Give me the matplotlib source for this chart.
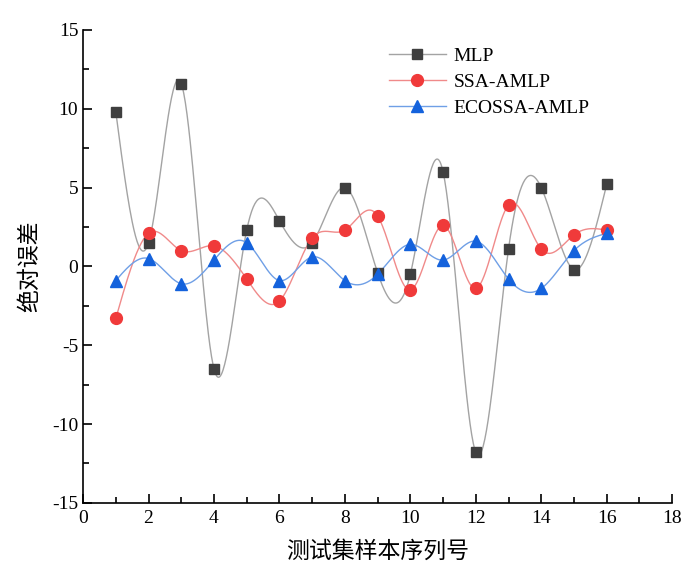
import numpy as np
import matplotlib
matplotlib.use("Agg")
import matplotlib.pyplot as plt
from matplotlib.ticker import MultipleLocator

x = np.arange(1, 17)
mlp = [9.8, 1.5, 11.6, -6.5, 2.3, 2.9, 1.5, 5.0, -0.4, -0.5, 6.0, -11.8, 1.1, 5.0, -0.2, 5.2]
ssa = [-3.3, 2.1, 1.0, 1.3, -0.8, -2.2, 1.8, 2.3, 3.2, -1.5, 2.6, -1.4, 3.9, 1.1, 2.0, 2.3]
eco = [-0.9, 0.5, -1.1, 0.4, 1.5, -0.9, 0.6, -0.9, -0.5, 1.4, 0.4, 1.6, -0.8, -1.4, 1.0, 2.1]
labels = ["MLP", "SSA-AMLP", "ECOSSA-AMLP"]


def natural_spline(xs, ys, n=40):
    xs = np.asarray(xs, float)
    ys = np.asarray(ys, float)
    N = len(xs)
    h = np.diff(xs)
    A = np.zeros((N, N))
    b = np.zeros(N)
    A[0, 0] = 1
    A[-1, -1] = 1
    for i in range(1, N - 1):
        A[i, i - 1] = h[i - 1]
        A[i, i] = 2 * (h[i - 1] + h[i])
        A[i, i + 1] = h[i]
        b[i] = 3 * ((ys[i + 1] - ys[i]) / h[i] - (ys[i] - ys[i - 1]) / h[i - 1])
    c = np.linalg.solve(A, b)
    xo, yo = [], []
    for i in range(N - 1):
        bi = (ys[i + 1] - ys[i]) / h[i] - h[i] * (2 * c[i] + c[i + 1]) / 3
        di = (c[i + 1] - c[i]) / (3 * h[i])
        t = np.linspace(0, h[i], n, endpoint=(i == N - 2))
        xo.append(xs[i] + t)
        yo.append(ys[i] + bi * t + c[i] * t ** 2 + di * t ** 3)
    return np.concatenate(xo), np.concatenate(yo)


plt.rcParams['font.family'] = ['Liberation Serif', 'Noto Sans CJK SC']
plt.rcParams['axes.unicode_minus'] = False
fig = plt.figure(figsize=(6.81, 5.65), dpi=100)
ax = fig.add_axes([0.122, 0.110, 0.865, 0.837])

styles = [
    (mlp, "#a3a3a3", "#3f3f3f", "s", 7.5),
    (ssa, "#f08a8a", "#f03a3a", "o", 8.5),
    (eco, "#6f9fe6", "#1462dc", "^", 9),
]
for (ys, lc, mc, mk, ms), lab in zip(styles, labels):
    sx, sy = natural_spline(x, ys)
    ax.plot(sx, sy, color=lc, lw=1.0, zorder=2)
    ax.plot(x, ys, linestyle='none', marker=mk, ms=ms, color=mc, zorder=3)
    ax.plot([], [], color=lc, lw=1.0, marker=mk, ms=ms, mfc=mc, mec=mc, label=lab)

ax.set_xlim(0, 18)
ax.set_ylim(-15, 15)
ax.xaxis.set_major_locator(MultipleLocator(2))
ax.xaxis.set_minor_locator(MultipleLocator(1))
ax.yaxis.set_major_locator(MultipleLocator(5))
ax.yaxis.set_minor_locator(MultipleLocator(2.5))
ax.tick_params(which='both', direction='in', labelsize=14, width=1.2)
ax.tick_params(which='major', length=6.5)
ax.tick_params(which='minor', length=4)
ax.tick_params(axis='x', pad=5)
for s in ['top', 'right']:
    ax.spines[s].set_visible(False)
for s in ['left', 'bottom']:
    ax.spines[s].set_linewidth(1.2)

ax.set_xlabel("测试集样本序列号", fontsize=16.5, labelpad=10)
ax.set_ylabel("绝对误差", fontsize=16.5, labelpad=8)

ax.legend(loc='upper left', bbox_to_anchor=(0.49, 1.0), frameon=False,
          fontsize=14, handlelength=2.9, labelspacing=0.42, handletextpad=0.4)

fig.savefig("out.png", dpi=100)
